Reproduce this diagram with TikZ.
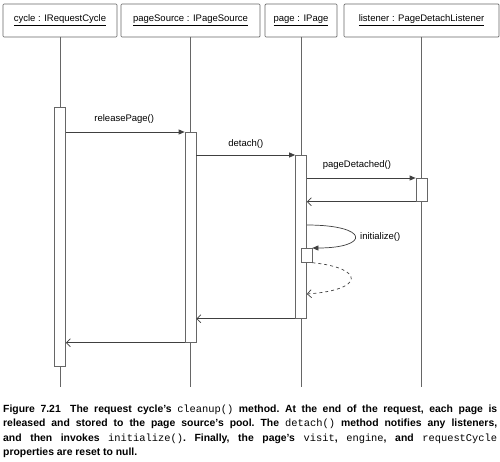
\documentclass[tikz,border=0pt]{standalone}
\usepackage{fontspec}
\setmainfont{Liberation Sans}
\setmonofont{Liberation Mono}
\usetikzlibrary{arrows.meta, positioning}

\begin{document}
\begin{tikzpicture}[
    x=1pt, y=-1pt, % one unit is one pixel of the reference, y runs down
    line/.style={draw=black!60, line width=0.7pt}, % Style for frames and lifelines
    header/.style={line, rectangle, rounded corners=1pt, minimum height=33pt,
        inner sep=0pt, font=\fontsize{9.5}{11}\selectfont}, % Style for object boxes
    activation/.style={line, fill=white, rectangle, minimum width=11pt,
        inner sep=0pt}, % Style for activation bars
    call/.style={draw=black!75, line width=0.7pt,
        -{Triangle[length=6pt, width=5pt]}}, % Style for synchronous calls
    reply/.style={draw=black!75, line width=0.7pt,
        -{Straight Barb[length=4pt, width=8pt]}}, % Style for returns
    msg/.style={font=\fontsize{9.5}{11}\selectfont, inner sep=1pt} % Style for message labels
]

    % Define bottom of the lifelines
    \def\lifeend{387}

    \useasboundingbox (0,0) rectangle (500,461);

    % Object boxes on top
    \foreach \nm/\cx/\bw/\lab in {cycle/60/114/{cycle : IRequestCycle},
        source/190.5/139/{pageSource : IPageSource},
        page/301/72/{page : IPage},
        listener/421.5/155/{listener : PageDetachListener}} {
        \node[header, minimum width=\bw pt] (\nm) at (\cx, 20.5) {\underline{\lab}};
    }

    % Lifelines
    \foreach \nm in {cycle, source, page, listener} {
        \draw[line] (\nm.south) -- (\nm.south |- 0,\lifeend);
    }

    % Activation bars
    \node[activation, minimum height=259pt, anchor=north] (actCycle) at (cycle.south |- 0,107) {};
    \node[activation, minimum height=210pt, anchor=north] (actSource) at (source.south |- 0,132) {};
    \node[activation, minimum height=163pt, anchor=north] (actPage) at (page.south |- 0,155) {};
    \node[activation, minimum height=23pt, anchor=north] (actListener) at (listener.south |- 0,178) {};
    \node[activation, minimum height=14pt, anchor=north] (actInit) at (306.5, 248) {};

    % Calls
    \draw[call] (actCycle.east |- actSource.north) -- (actSource.north west)
        node[msg, midway, above=7pt, xshift=-1pt] {releasePage()};
    \draw[call] (actSource.east |- actPage.north) -- (actPage.north west)
        node[msg, midway, above=5pt] {detach()};
    \draw[call] (actPage.east |- actListener.north) -- (actListener.north west)
        node[msg, pos=0.46, above=7pt] {pageDetached()};
    \draw[reply] (actListener.south west) -- (actPage.east |- actListener.south);

    % Self call to initialize() and its return
    \coordinate (initStart) at (actPage.east |- 0,225);
    \draw[call] (initStart) .. controls (370,225) and (370,248) .. (actInit.north east);
    \node[msg, anchor=west] (initLabel) at (359,237) {initialize()};
    \draw[reply, dashed] (actInit.south east) .. controls (365,268) and (365,290) .. (actPage.east |- 0,294);

    % Returns
    \draw[reply] (actPage.south west) -- (actSource.east |- actPage.south);
    \draw[reply] (actSource.south west) -- (actCycle.east |- actSource.south);

    % Caption
    \node[anchor=north west, text width=494pt, align=justify, inner sep=0pt,
        font=\fontsize{10.4}{14.2}\selectfont\bfseries\frenchspacing] (caption) at (3,405)
        {Figure 7.21\hspace{0.9em}The request cycle's \texttt{\mdseries cleanup()} method. At the end of the request, each page is\linebreak
        released and stored to the page source's pool. The \texttt{\mdseries detach()} method notifies any listeners,\linebreak
        and then invokes \texttt{\mdseries initialize()}. Finally, the page's \texttt{\mdseries visit}, \texttt{\mdseries engine}, and \texttt{\mdseries requestCycle}\linebreak
        properties are reset to null.\par};

\end{tikzpicture}
\end{document}
